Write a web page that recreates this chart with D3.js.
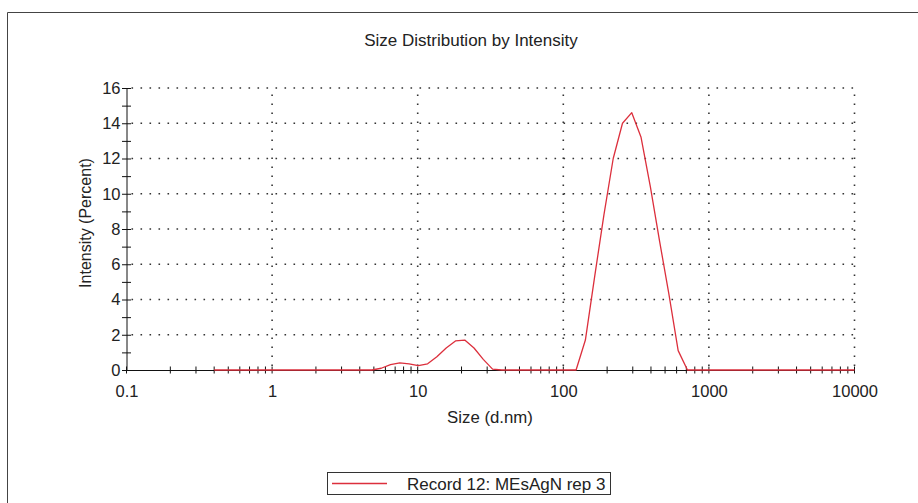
<!DOCTYPE html>
<html>
<head>
<meta charset="utf-8">
<script src="https://cdn.jsdelivr.net/npm/d3@7"></script>
<style>
  html, body { margin: 0; padding: 0; background: #fff; }
  svg { display: block; font-family: "Liberation Sans", Arial, sans-serif; }
</style>
</head>
<body>
<svg id="chart" width="918" height="503"></svg>
<script>
// Size classes (d.nm) of the intensity distribution
const sizes = [
  0.4, 0.4632, 0.5365, 0.6213, 0.7195, 0.8332, 0.9649, 1.117, 1.294, 1.499,
  1.736, 2.01, 2.328, 2.696, 3.122, 3.615, 4.187, 4.849, 5.615, 6.503,
  7.531, 8.721, 10.1, 11.7, 13.54, 15.69, 18.17, 21.04, 24.36, 28.21,
  32.67, 37.84, 43.82, 50.75, 58.77, 68.06, 78.82, 91.28, 105.7, 122.4,
  141.8, 164.2, 190.1, 220.2, 255.0, 295.3, 342.0, 396.1, 458.7, 531.2,
  615.1, 712.4, 825.0, 955.4, 1106, 1281, 1484, 1718, 1990, 2305,
  2669, 3091, 3580, 4145, 4801, 5560, 6439, 7456, 8635, 10000
];
// Intensity (%) per size class
const intensity = [
  0, 0, 0, 0, 0, 0, 0, 0, 0, 0,
  0, 0, 0, 0, 0, 0, 0, 0, 0.1, 0.3,
  0.4, 0.35, 0.25, 0.35, 0.75, 1.25, 1.65, 1.7, 1.25, 0.6,
  0.05, 0, 0, 0, 0, 0, 0, 0, 0, 0,
  1.7, 5.3, 8.8, 12.0, 14.0, 14.6, 13.2, 10.4, 7.3, 4.3,
  1.1, 0, 0, 0, 0, 0, 0, 0, 0, 0,
  0, 0, 0, 0, 0, 0, 0, 0, 0, 0
];
const xTickValues = [0.1, 1, 10, 100, 1000, 10000];
const xTickLabels = ["0.1", "1", "10", "100", "1000", "10000"];
const yTickValues = [0, 2, 4, 6, 8, 10, 12, 14, 16];
const seriesName = "Record 12: MEsAgN rep 3";
const chartTitle = "Size Distribution by Intensity";
const xTitle = "Size (d.nm)";
const yTitle = "Intensity (Percent)";

const svg = d3.select("#chart");
const m = { left: 126.5, right: 854.5, top: 88, bottom: 370 };

const x = d3.scaleLog().domain([0.1, 10000]).range([m.left, m.right]);
const y = d3.scaleLinear().domain([0, 16]).range([m.bottom, m.top]);

// outer frame (left and top edges)
svg.append("path")
  .attr("d", "M7.5,503 L7.5,12.5 L918,12.5")
  .attr("fill", "none").attr("stroke", "#444").attr("stroke-width", 1);

// title
svg.append("text")
  .attr("x", 471).attr("y", 46)
  .attr("text-anchor", "middle")
  .attr("font-size", 17).attr("fill", "#222")
  .text(chartTitle);

// dotted grid
const grid = svg.append("g")
  .attr("stroke", "#333").attr("stroke-width", 1.6)
  .attr("stroke-dasharray", "1.6,7.4").attr("fill", "none");
yTickValues.filter(v => v > 0).forEach(v => {
  grid.append("line")
    .attr("x1", m.left + 5).attr("x2", m.right)
    .attr("y1", y(v)).attr("y2", y(v));
});
xTickValues.filter(v => v > 0.1).forEach(v => {
  grid.append("line")
    .attr("x1", x(v)).attr("x2", x(v))
    .attr("y1", m.bottom - 4).attr("y2", m.top);
});

// y axis
const yMinor = d3.range(0, 17, 1);
const yAxis = d3.axisLeft(y).tickValues(yMinor)
  .tickFormat(d => (d % 2 === 0 ? d : ""))
  .tickSize(0).tickPadding(6);
const gy = svg.append("g").attr("transform", `translate(${m.left},0)`).call(yAxis);
gy.select(".domain").attr("stroke", "#111");
gy.selectAll(".tick line").remove();
gy.selectAll(".tick").append("line")
  .attr("x1", -4.5).attr("x2", 4.5).attr("stroke", "#111");
gy.selectAll(".tick text")
  .attr("font-size", 16.5).attr("fill", "#222")
  .attr("font-family", "'Liberation Sans', Arial, sans-serif");

// x axis with minor ticks at every 1..9 multiple of each decade
const xMinor = [];
for (let e = -1; e < 4; e++) {
  for (let k = 1; k < 10; k++) xMinor.push(k * Math.pow(10, e));
}
xMinor.push(10000);
const xAxis = d3.axisBottom(x).tickValues(xTickValues)
  .tickFormat((d, i) => xTickLabels[i])
  .tickSize(0).tickPadding(15);
const gx = svg.append("g").attr("transform", `translate(0,${m.bottom})`).call(xAxis);
gx.select(".domain").attr("stroke", "#111");
gx.selectAll(".tick line").remove();
gx.selectAll(".tick text")
  .attr("font-size", 16.5).attr("fill", "#222")
  .attr("font-family", "'Liberation Sans', Arial, sans-serif");
gx.selectAll(".minor").data(xMinor).enter().append("line")
  .attr("class", "minor")
  .attr("x1", d => x(d)).attr("x2", d => x(d))
  .attr("y1", -3.5).attr("y2", 3.5)
  .attr("stroke", "#111");

// axis titles
svg.append("text")
  .attr("x", 490).attr("y", 423)
  .attr("text-anchor", "middle")
  .attr("font-size", 16.8).attr("fill", "#222")
  .text(xTitle);
svg.append("text")
  .attr("transform", "translate(91,223) rotate(-90)")
  .attr("text-anchor", "middle")
  .attr("font-size", 16).attr("fill", "#222")
  .text(yTitle);

// distribution curve
const line = d3.line()
  .x((d, i) => x(sizes[i]))
  .y(d => y(d));
svg.append("path")
  .datum(intensity)
  .attr("d", line)
  .attr("fill", "none")
  .attr("stroke", "#dc2f3c")
  .attr("stroke-width", 1.3)
  .attr("stroke-linejoin", "round");

// legend
const lg = svg.append("g");
lg.append("rect")
  .attr("x", 327.5).attr("y", 472.5).attr("width", 283).attr("height", 22)
  .attr("fill", "#fff").attr("stroke", "#333");
lg.append("line")
  .attr("x1", 332).attr("x2", 387).attr("y1", 483.5).attr("y2", 483.5)
  .attr("stroke", "#dc2f3c").attr("stroke-width", 1.3);
lg.append("text")
  .attr("x", 407).attr("y", 489.5)
  .attr("font-size", 17).attr("fill", "#222")
  .text(seriesName);
</script>
</body>
</html>
